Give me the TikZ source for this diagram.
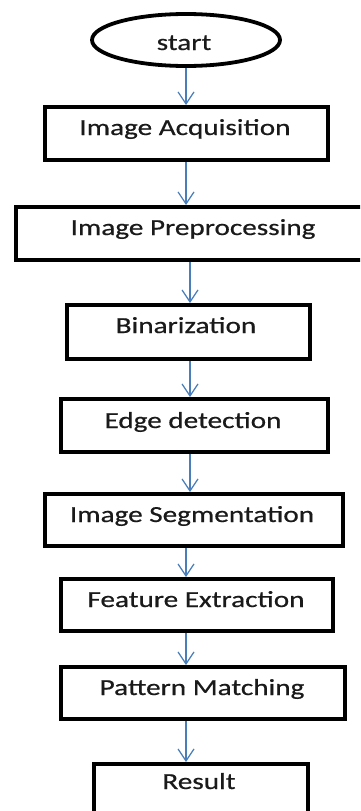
\documentclass[tikz,border=0pt]{standalone}
\usepackage{fontspec}
\newfontfamily\lblfont[FakeStretch=1.27,FakeBold=0.6]{Carlito}
\usetikzlibrary{shapes.geometric,arrows.meta}
\definecolor{arrblue}{HTML}{4A7EBB}
\definecolor{txtcol}{HTML}{1A1A1A}
\begin{document}
\begin{tikzpicture}[x=1pt,y=-1pt,
  box/.style={draw=black, line width=4pt, rectangle, inner sep=0pt},
  oval/.style={draw=black, line width=3.8pt, ellipse, inner sep=0pt},
  lbl/.style={anchor=base, inner sep=0pt, font=\lblfont\fontsize{23}{26}\selectfont, text=txtcol},
  arr/.style={draw=arrblue, line width=1.2pt, -{Straight Barb[length=12pt,width=16pt,line width=1.2pt]}}
]
\useasboundingbox (0,0) rectangle (360,811);
\clip (0,0) rectangle (360,811);
\fill[white] (0,0) rectangle (360,811);

% x positions of connectors
\coordinate (xa) at (186,0);
\coordinate (xb) at (190,0);

% shapes
\node[oval, minimum width=188pt, minimum height=52pt] (st) at (186,40) {};
\node[box, minimum width=283pt, minimum height=53pt] (b1) at (186.5,133.5) {};
\node[box, minimum width=348pt, minimum height=53pt] (b2) at (190,233.5) {};
\node[box, minimum width=243pt, minimum height=54pt] (b3) at (188.5,332) {};
\node[box, minimum width=267pt, minimum height=53pt] (b4) at (194.5,425.5) {};
\node[box, minimum width=298pt, minimum height=52pt] (b5) at (194,520) {};
\node[box, minimum width=272pt, minimum height=52pt] (b6) at (197,605) {};
\node[box, minimum width=284pt, minimum height=52pt] (b7) at (203,693) {};
\node[box, minimum width=214pt, minimum height=60pt] (b8) at (201,794) {};

% texts
\node[lbl] (t0) at (184,50) {start};
\node[lbl] (t1) at (185,135) {Image Acquisition};
\node[lbl] (t2) at (193,235) {Image Preprocessing};
\node[lbl] (t3) at (186,333) {Binarization};
\node[lbl] (t4) at (193,428) {Edge detection};
\node[lbl] (t5) at (192,522) {Image Segmentation};
\node[lbl] (t6) at (196,607) {Feature Extraction};
\node[lbl] (t7) at (202,695) {Pattern Matching};
\node[lbl] (t8) at (199,789) {Result};

% connectors
\draw[arr] (st.south -| xa) -- (b1.north -| xa);
\draw[arr] (b1.south -| xa) -- (b2.north -| xa);
\draw[arr] (b2.south -| xb) -- (b3.north -| xb);
\draw[arr] (b3.south -| xb) -- (b4.north -| xb);
\draw[arr] (b4.south -| xb) -- (b5.north -| xb);
\draw[arr] (b5.south -| xa) -- (b6.north -| xa);
\draw[arr] (b6.south -| xa) -- (b7.north -| xa);
\draw[arr] (b7.south -| xa) -- (b8.north -| xa);
\end{tikzpicture}
\end{document}
